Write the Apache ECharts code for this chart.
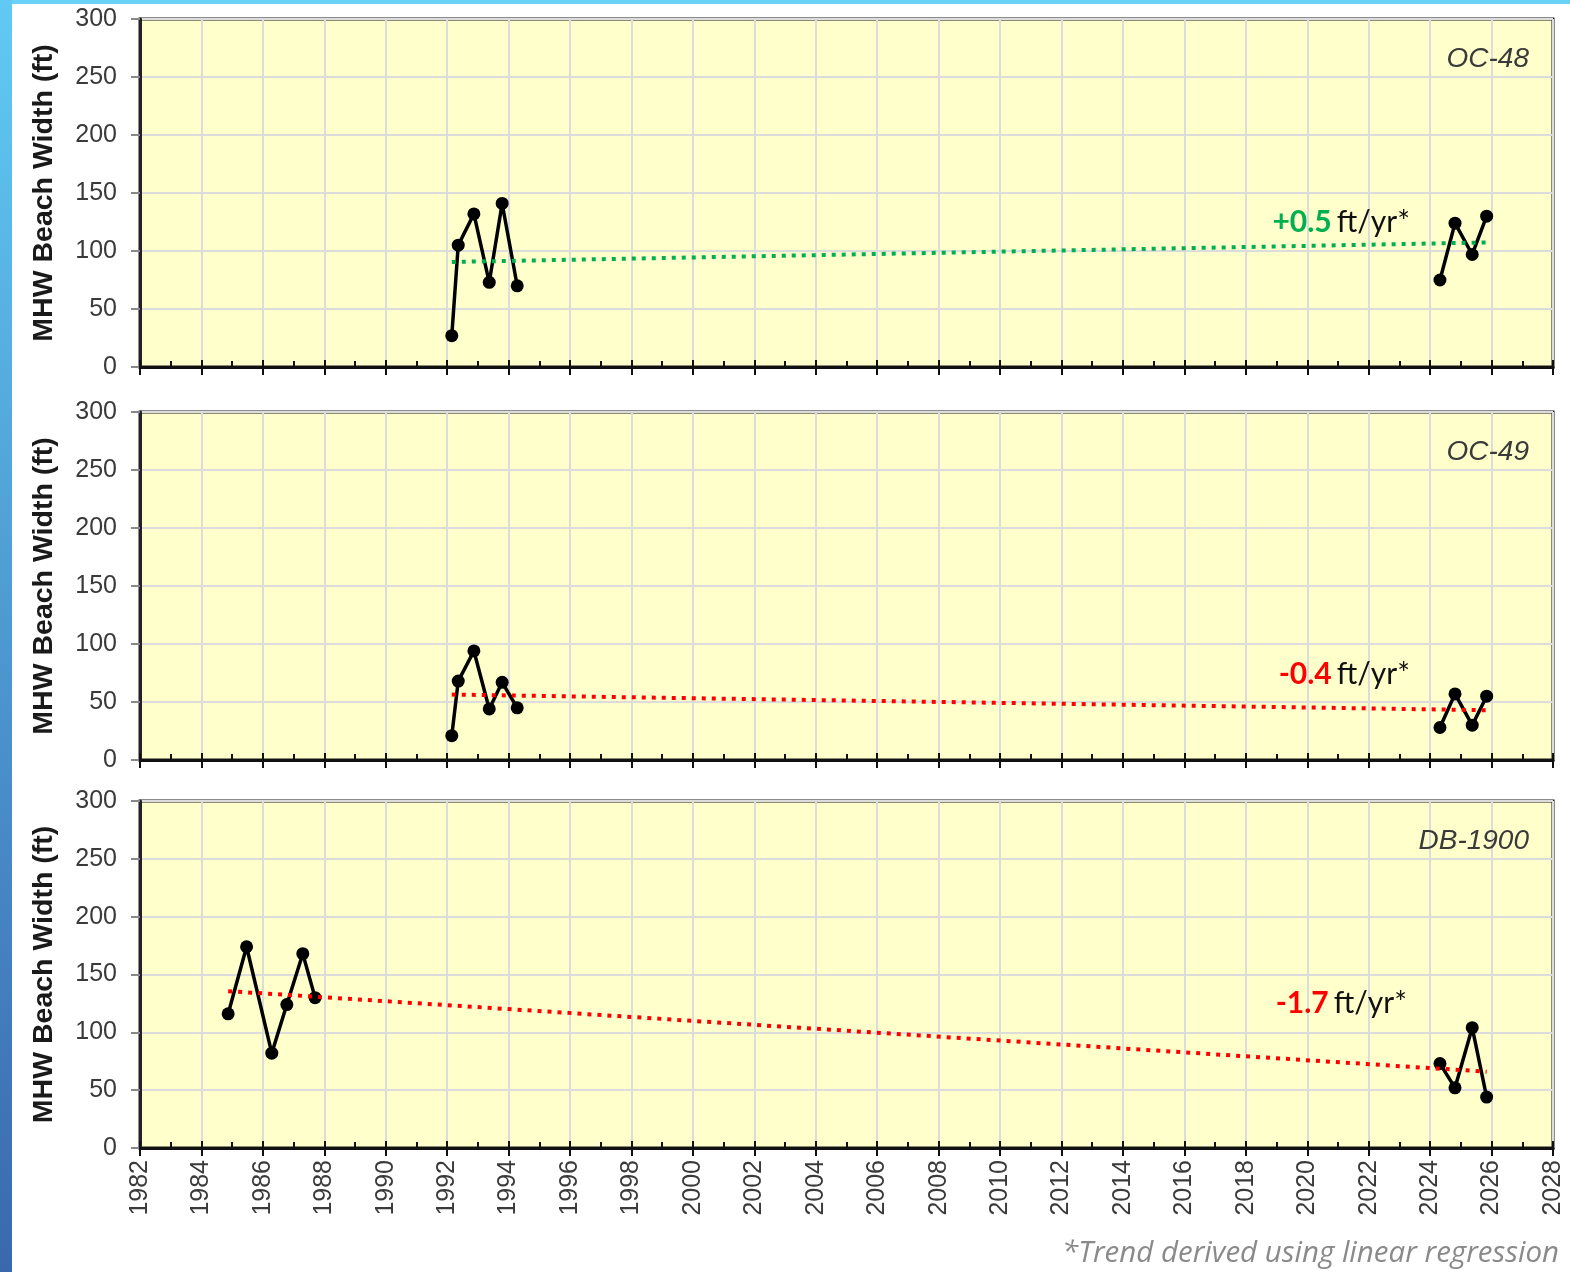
<!DOCTYPE html>
<html>
<head>
<meta charset="utf-8">
<title>MHW Beach Width</title>
<script src="https://cdn.jsdelivr.net/npm/echarts@6/dist/echarts.min.js"></script>
<style>
  html, body { margin: 0; padding: 0; background: #ffffff; }
  #chart { width: 1570px; height: 1272px; }
</style>
</head>
<body>
<div id="chart"></div>
<script>
// Profile stations, one panel each, top to bottom
const stationNames = ['OC-48', 'OC-49', 'DB-1900'];

// Survey dates (decimal years) and MHW beach widths (ft)
const yearsOC48 = [1992.15, 1992.36, 1992.87, 1993.37, 1993.79, 1994.28, 2024.32, 2024.81, 2025.37, 2025.84];
const widthOC48 = [27, 105, 132, 73, 141, 70, 75, 124, 97, 130];

const yearsOC49 = [1992.15, 1992.36, 1992.87, 1993.37, 1993.79, 1994.28, 2024.32, 2024.81, 2025.37, 2025.84];
const widthOC49 = [21, 68, 94, 44, 67, 45, 28, 57, 30, 55];

const yearsDB1900 = [1984.87, 1985.47, 1986.29, 1986.78, 1987.30, 1987.70, 2024.32, 2024.81, 2025.37, 2025.84];
const widthDB1900 = [116, 174, 82, 124, 168, 130, 73, 52, 104, 44];

// Linear-regression shoreline trends (ft/yr)
const trendRates = [0.5, -0.4, -1.7];

// Axis ranges and tick steps
const yearRange = [1982, 2028];
const yearStep = 2;
const widthRange = [0, 300];
const widthStep = 50;

const stationYears = [yearsOC48, yearsOC49, yearsDB1900];
const stationWidths = [widthOC48, widthOC49, widthDB1900];

// Split a record into continuous survey runs (a long gap breaks the line)
function surveyRuns(years, widths) {
  const runs = [];
  let cur = [];
  years.forEach((y, i) => {
    if (i > 0 && y - years[i - 1] > 10) { runs.push(cur); cur = []; }
    cur.push([y, widths[i]]);
  });
  runs.push(cur);
  return runs;
}

// Trend line with the stated rate, passing through the mean survey point
function trendLine(years, widths, rate) {
  const n = years.length;
  const mx = years.reduce((a, b) => a + b, 0) / n;
  const my = widths.reduce((a, b) => a + b, 0) / n;
  const x0 = years[0], x1 = years[n - 1];
  return [[x0, my + rate * (x0 - mx)], [x1, my + rate * (x1 - mx)]];
}

const panelTops = [19, 412, 801];
const panelHeights = [348, 348, 347];
const plotLeft = 140;
const plotRight = 17;

const grids = [], xAxes = [], yAxes = [], series = [], titles = [];
const axisFont = 'Liberation Sans, Arial, sans-serif';

stationNames.forEach((name, i) => {
  const isLast = i === stationNames.length - 1;
  grids.push({
    left: plotLeft, right: plotRight, top: panelTops[i], height: panelHeights[i],
    show: true, backgroundColor: '#FFFFCC', borderColor: '#1a1a1a', borderWidth: 3
  });
  // main year axis: labels, gridlines, inward ticks every year
  xAxes.push({
    type: 'value', gridIndex: i, position: 'bottom',
    min: yearRange[0], max: yearRange[1], interval: yearStep,
    axisLine: { show: true, onZero: false, lineStyle: { color: '#111', width: 3 } },
    axisTick: { show: true, inside: true, length: 7, lineStyle: { color: '#111', width: 2 } },
    minorTick: { show: true, splitNumber: 2, length: 6, lineStyle: { color: '#111', width: 2 } },
    splitLine: { show: true, lineStyle: { color: '#DCDCDC', width: 2 } },
    axisLabel: {
      show: isLast, rotate: 90, margin: 12, fontSize: 25, color: '#3a3a3a',
      fontFamily: axisFont, formatter: v => String(v)
    }
  });
  // companion axis: outward half of the major ticks
  xAxes.push({
    type: 'value', gridIndex: i, position: 'bottom',
    min: yearRange[0], max: yearRange[1], interval: yearStep,
    axisLine: { show: false },
    axisTick: { show: true, inside: false, length: 8, lineStyle: { color: '#111', width: 2 } },
    axisLabel: { show: false }, splitLine: { show: false }
  });
  yAxes.push({
    type: 'value', gridIndex: i,
    min: widthRange[0], max: widthRange[1], interval: widthStep,
    name: 'MHW Beach Width (ft)', nameLocation: 'middle', nameGap: 81,
    nameTextStyle: { fontSize: 28.5, fontWeight: 'bold', color: '#1a1a1a', fontFamily: axisFont },
    axisLine: { show: true, lineStyle: { color: '#222', width: 3 } },
    axisTick: { show: true, inside: false, length: 9, lineStyle: { color: '#888', width: 2 } },
    splitLine: { show: true, lineStyle: { color: '#DCDCDC', width: 2 } },
    axisLabel: { margin: 23, fontSize: 25, color: '#3a3a3a', fontFamily: axisFont }
  });

  const years = stationYears[i], widths = stationWidths[i];
  surveyRuns(years, widths).forEach(run => {
    series.push({
      type: 'line', xAxisIndex: 2 * i, yAxisIndex: i, data: run,
      symbol: 'circle', symbolSize: 13, z: 3,
      lineStyle: { color: '#000', width: 3.5 }, itemStyle: { color: '#000' },
      emphasis: { disabled: true }, animation: false
    });
  });

  const rate = trendRates[i];
  const trendColor = rate > 0 ? '#00B050' : '#FF0000';
  series.push({
    type: 'line', xAxisIndex: 2 * i, yAxisIndex: i,
    data: trendLine(years, widths, rate), symbol: 'none', z: 4,
    lineStyle: { color: trendColor, width: 4, type: [4, 6] },
    emphasis: { disabled: true }, animation: false
  });

  // station label, upper right of the panel
  titles.push({
    text: name, right: 36, top: panelTops[i] + 21,
    textStyle: { fontSize: 28, fontStyle: 'italic', fontWeight: 'normal', color: '#3a3a3a', fontFamily: axisFont }
  });
  // trend rate label
  const rateText = (rate > 0 ? '+' : '') + rate.toFixed(1);
  titles.push({
    text: '{v|' + rateText + '} {u|ft/yr*}',
    right: [155, 155, 158][i], top: [202, 654, 983][i],
    textStyle: {
      rich: {
        v: { fontSize: 30, fontWeight: 'bold', color: trendColor, fontFamily: 'Lato' },
        u: { fontSize: 30, fontWeight: 'normal', color: '#111', fontFamily: 'Lato' }
      }
    }
  });
});

titles.push({
  text: '*Trend derived using linear regression', right: 6, top: 1234,
  textStyle: { fontSize: 29.5, fontStyle: 'italic', fontWeight: 'normal', color: '#8a8a8a', fontFamily: 'Open Sans' }
});

const chart = echarts.init(document.getElementById('chart'), null, { renderer: 'canvas' });
chart.setOption({
  backgroundColor: '#ffffff',
  animation: false,
  title: titles,
  grid: grids,
  xAxis: xAxes,
  yAxis: yAxes,
  series: series,
  graphic: [
    { type: 'rect', left: 0, top: 0, shape: { width: 1570, height: 4 }, style: { fill: '#68D2F7' }, z: 10 },
    {
      type: 'rect', left: 0, top: 0, shape: { width: 12, height: 1272 }, z: 10,
      style: {
        fill: new echarts.graphic.LinearGradient(0, 0, 0, 1, [
          { offset: 0, color: '#60CAF4' },
          { offset: 1, color: '#3A68AE' }
        ])
      }
    }
  ]
});
</script>
</body>
</html>
